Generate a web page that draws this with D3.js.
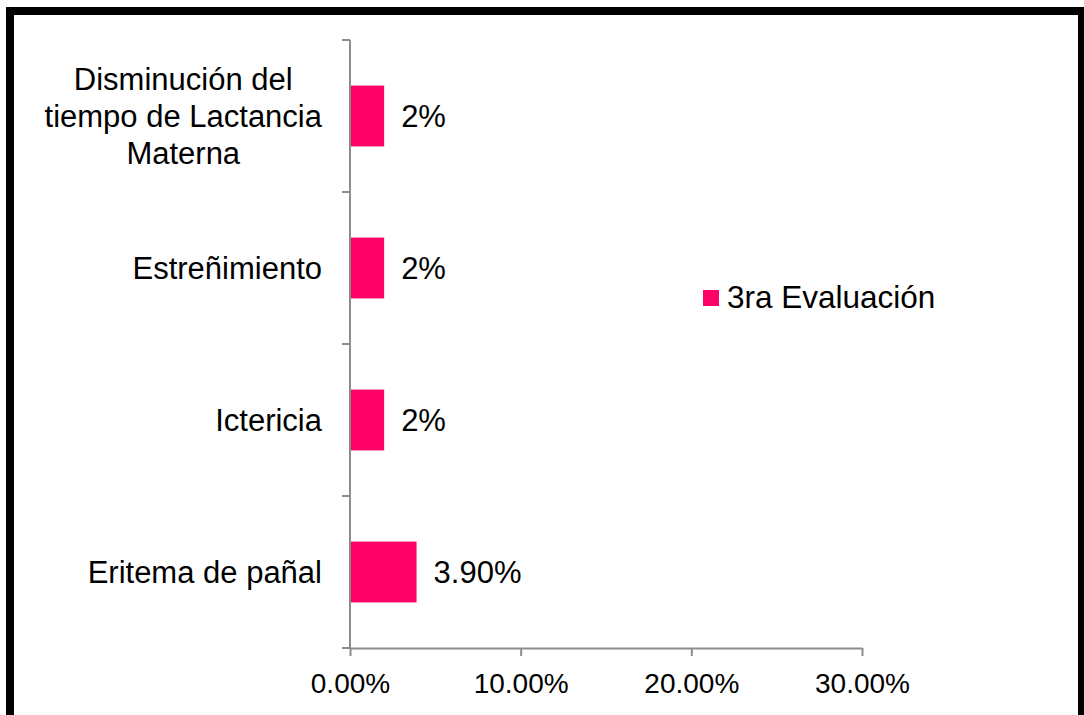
<!DOCTYPE html>
<html>
<head>
<meta charset="utf-8">
<script src="https://cdn.jsdelivr.net/npm/d3@7"></script>
<style>
  html, body { margin: 0; padding: 0; background: #fff; }
  svg { display: block; }
  text { font-family: "Liberation Sans", Arial, Helvetica, sans-serif; fill: #000; }
</style>
</head>
<body>
<svg id="chart" width="1084" height="715"></svg>
<script>
// ---- data ----
const categories = [
  "Disminución del tiempo de Lactancia Materna",
  "Estreñimiento",
  "Ictericia",
  "Eritema de pañal"
];
const categoryLines = [
  ["Disminución del", "tiempo de Lactancia", "Materna"],
  ["Estreñimiento"],
  ["Ictericia"],
  ["Eritema de pañal"]
];
const values = [0.02, 0.02, 0.02, 0.039];
const valueLabels = ["2%", "2%", "2%", "3.90%"];
const xTicks = [0, 0.10, 0.20, 0.30];
const seriesName = "3ra Evaluación";

// ---- layout ----
const svg = d3.select("#chart");
const barColor = "#FF0066";
const axisColor = "#8c8c8c";

svg.append("rect")
  .attr("x", 10).attr("y", 11)
  .attr("width", 1072).attr("height", 720)
  .attr("fill", "#fff").attr("stroke", "#000").attr("stroke-width", 8);

const plot = { left: 350, right: 862, top: 40, bottom: 648 };

const x = d3.scaleLinear().domain([0, 0.30]).range([plot.left, plot.right]);
const y = d3.scaleBand().domain(categories).range([plot.top, plot.bottom])
  .paddingInner(0.6).paddingOuter(0.3);

// bars
svg.append("g").selectAll("rect")
  .data(categories)
  .join("rect")
  .attr("x", x(0))
  .attr("y", d => y(d))
  .attr("width", (d, i) => x(values[i]) - x(0))
  .attr("height", y.bandwidth())
  .attr("fill", barColor);

// x axis
const xAxis = svg.append("g")
  .attr("transform", `translate(0,${plot.bottom})`)
  .call(d3.axisBottom(x).tickValues(xTicks).tickFormat(d3.format(".2%")).tickSize(8).tickSizeOuter(0).tickPadding(17));
xAxis.select(".domain").attr("stroke", axisColor).attr("stroke-width", 2);
xAxis.selectAll(".tick line").attr("stroke", axisColor).attr("stroke-width", 2);
xAxis.selectAll(".tick text")
  .style("font-family", '"Liberation Sans", Arial, sans-serif')
  .attr("font-size", 28).attr("fill", "#000").attr("dy", "0.71em");

// y axis: line + ticks at band boundaries
const boundaries = d3.range(categories.length + 1).map(i => plot.top + i * (plot.bottom - plot.top) / categories.length);
const yAxis = svg.append("g");
yAxis.append("line")
  .attr("x1", plot.left).attr("x2", plot.left)
  .attr("y1", plot.top).attr("y2", plot.bottom)
  .attr("stroke", axisColor).attr("stroke-width", 2);
yAxis.selectAll("line.tk").data(boundaries).join("line")
  .attr("class", "tk")
  .attr("x1", plot.left - 8).attr("x2", plot.left)
  .attr("y1", d => d).attr("y2", d => d)
  .attr("stroke", axisColor).attr("stroke-width", 2);

// category labels
const labelRight = plot.left - 28;
const lineH = 36.7;
categories.forEach((c, i) => {
  const lines = categoryLines[i];
  const cy = y(c) + y.bandwidth() / 2;
  const t = svg.append("text").attr("font-size", 31);
  lines.forEach((ln, j) => {
    t.append("tspan")
      .attr("y", cy + (j - (lines.length - 1) / 2) * lineH)
      .attr("dy", "0.36em")
      .text(ln);
  });
  let maxW = 0;
  t.selectAll("tspan").each(function () { maxW = Math.max(maxW, this.getComputedTextLength()); });
  if (lines.length > 1) {
    t.attr("text-anchor", "middle");
    t.selectAll("tspan").attr("x", labelRight - maxW / 2);
  } else {
    t.attr("text-anchor", "end");
    t.selectAll("tspan").attr("x", labelRight);
  }
});

// value labels
svg.append("g").selectAll("text")
  .data(categories)
  .join("text")
  .attr("x", (d, i) => x(values[i]) + 17)
  .attr("y", d => y(d) + y.bandwidth() / 2)
  .attr("dy", "0.36em")
  .attr("font-size", 31)
  .text((d, i) => valueLabels[i]);

// legend
const lg = svg.append("g").attr("transform", "translate(703,290)");
lg.append("rect").attr("width", 16).attr("height", 16).attr("fill", barColor);
lg.append("text").attr("x", 24).attr("y", 17.5).attr("font-size", 31.5).text(seriesName);
</script>
</body>
</html>
